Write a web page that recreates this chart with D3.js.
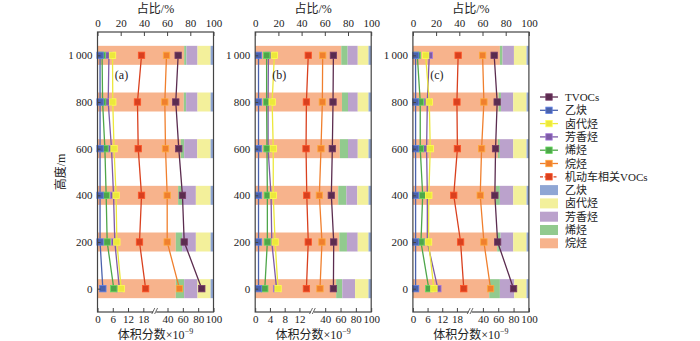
<!DOCTYPE html>
<html>
<head>
<meta charset="utf-8">
<script src="https://cdn.jsdelivr.net/npm/d3@7"></script>
<style>
  body { margin: 0; background: #fff; }
  svg text { font-family: "Liberation Serif", "Times New Roman", "Noto Sans CJK SC", serif; fill: #222; }
</style>
</head>
<body>
<div id="chart"></div>
<script>
// altitudes (m), bottom to top
var altitudes = [0, 200, 400, 600, 800, 1000];
var panelNames = ["(a)", "(b)", "(c)"];

// volume fraction (x10^-9) per panel [a, b, c], each by altitude
var tvoc    = [[84.7, 61.8, 59.5, 54.7, 50.8, 53.9], [50.7, 51.1, 48.0, 49.3, 50.2, 50.7], [80.0, 59.2, 55.6, 56.5, 58.6, 54.7]];
var acetyl  = [[2.1, 1.0, 1.0, 1.0, 1.0, 1.0], [0.9, 0.9, 0.9, 0.9, 0.9, 0.9], [1.1, 1.1, 1.1, 1.1, 1.1, 1.1]];
var halo    = [[9.3, 7.6, 7.3, 6.5, 6.0, 5.9], [6.2, 5.4, 4.9, 4.9, 4.6, 5.2], [8.6, 6.4, 6.5, 7.1, 6.7, 5.2]];
var arom    = [[8.6, 6.8, 6.3, 5.5, 4.2, 4.5], [5.8, 4.5, 4.3, 3.5, 3.5, 3.6], [10.2, 5.9, 5.9, 5.6, 5.9, 6.7]];
var alkene  = [[6.4, 3.8, 3.4, 2.9, 2.0, 1.8], [2.6, 3.3, 3.3, 3.2, 3.1, 3.1], [6.5, 3.3, 4.0, 3.0, 3.0, 1.8]];
var alkane  = [[55.6, 39.6, 39.6, 37.4, 36.5, 38.7], [33.2, 35.8, 32.4, 34.5, 36.3, 36.7], [50.0, 41.3, 36.5, 38.3, 41.3, 39.6]];
var vehicle = [[18.9, 16.5, 17.3, 16.0, 15.7, 17.3], [13.9, 14.4, 14.0, 13.8, 13.9, 14.4], [20.8, 19.5, 16.7, 18.2, 18.0, 18.5]];

// share (%) of each group per panel, by altitude
var alkanePct = [[67.5, 67.5, 69.5, 71.8, 74.4, 74.7], [69.8, 72.5, 71.6, 73.0, 74.8, 74.2], [65.8, 72.7, 71.6, 73.3, 73.9, 75.0]];
var alkenePct = [[7.2, 5.5, 3.5, 2.9, 2.0, 2.0], [5.3, 6.6, 7.0, 7.0, 5.2, 5.5], [9.2, 2.9, 3.4, 1.7, 2.0, 2.3]];
var aromPct   = [[11.5, 11.8, 11.8, 11.3, 9.8, 9.5], [11.0, 9.3, 9.4, 8.4, 8.4, 8.7], [12.4, 10.9, 11.5, 11.5, 10.6, 9.8]];
var haloPct   = [[11.3, 12.7, 12.7, 11.5, 11.3, 11.3], [11.6, 9.3, 9.7, 9.3, 9.3, 9.3], [10.6, 11.5, 11.5, 11.5, 11.5, 10.9]];
var acetylPct = [[2.5, 2.5, 2.5, 2.5, 2.5, 2.5], [2.3, 2.3, 2.3, 2.3, 2.3, 2.3], [2.0, 2.0, 2.0, 2.0, 2.0, 2.0]];

// axis ticks
var pctTicks = [0, 20, 40, 60, 80, 100];
var lowTicks = [[0, 6, 12, 18], [0, 4, 8, 12], [0, 6, 12, 18]];
var highTicks = [40, 60, 80, 100];
var lowMax = [22, 15.2, 22.9];   // end of the lower part of the broken axis
var highMin = 25;                // start of the upper part

var width = 700, height = 341,
	plotTop = 32, plotBottom = 312,
	panelW = 116, panelStep = 157.7, left0 = 97.5,
	barH = 19;

var lineSeries = [
	{ name: "芳香烃", data: arom, color: "#7d5ba6" },
	{ name: "烯烃", data: alkene, color: "#4ea64a" },
	{ name: "乙炔", data: acetyl, color: "#4a62ad" },
	{ name: "卤代烃", data: halo, color: "#ece83c" },
	{ name: "机动车相关VOCs", data: vehicle, color: "#d9401e" },
	{ name: "烷烃", data: alkane, color: "#f07f2d" },
	{ name: "TVOCs", data: tvoc, color: "#5b2c4f" }
];
var barSeries = [
	{ name: "烷烃", data: alkanePct, color: "#f7b38c" },
	{ name: "烯烃", data: alkenePct, color: "#92ca8e" },
	{ name: "芳香烃", data: aromPct, color: "#bba2cc" },
	{ name: "卤代烃", data: haloPct, color: "#f3f09b" },
	{ name: "乙炔", data: acetylPct, color: "#8fa6d4" }
];

var svg = d3.select("#chart").append("svg")
	.attr("width", width)
	.attr("height", height);

var y = d3.scaleLinear().domain([-100, 1100]).range([plotBottom, plotTop]);

panelNames.forEach(function(label, p) {
	var x0 = left0 + p * panelStep;
	var g = svg.append("g");

	var xPct = d3.scaleLinear().domain([0, 100]).range([x0, x0 + panelW]);
	// broken axis: two linear pieces joined by a small gap
	var xVal = d3.scaleLinear()
		.domain([0, lowMax[p], highMin, 100])
		.range([x0, x0 + 56, x0 + 58.5, x0 + panelW]);

	// stacked share bars
	var rows = altitudes.map(function(a, i) {
		var r = { alt: a };
		barSeries.forEach(function(s) { r[s.name] = s.data[p][i]; });
		return r;
	});
	var stack = d3.stack().keys(barSeries.map(function(s) { return s.name; }))(rows);
	stack.forEach(function(layer, k) {
		g.selectAll(null).data(layer).enter().append("rect")
			.attr("x", function(d) { return xPct(d[0]); })
			.attr("width", function(d) { return xPct(d[1]) - xPct(d[0]); })
			.attr("y", function(d) { return y(d.data.alt) - barH / 2; })
			.attr("height", barH)
			.attr("fill", barSeries[k].color);
	});

	// concentration profiles
	var line = d3.line()
		.x(function(d) { return xVal(d); })
		.y(function(d, i) { return y(altitudes[i]); });
	lineSeries.forEach(function(s) {
		g.append("path")
			.attr("d", line(s.data[p]))
			.attr("fill", "none")
			.attr("stroke", s.color)
			.attr("stroke-width", 1.3);
		g.selectAll(null).data(s.data[p]).enter().append("rect")
			.attr("x", function(d) { return xVal(d) - 3.2; })
			.attr("y", function(d, i) { return y(altitudes[i]) - 3.2; })
			.attr("width", 6.4)
			.attr("height", 6.4)
			.attr("fill", s.color)
			.attr("stroke", d3.color(s.color).brighter(0.8))
			.attr("stroke-width", 0.8);
	});

	// frame
	g.append("rect")
		.attr("x", x0).attr("y", plotTop)
		.attr("width", panelW).attr("height", plotBottom - plotTop)
		.attr("fill", "none").attr("stroke", "#444").attr("stroke-width", 1.2);

	var axTop = g.append("g")
		.attr("transform", "translate(0," + plotTop + ")")
		.call(d3.axisTop(xPct).tickValues(pctTicks).tickSize(-4).tickPadding(5));
	var axBot = g.append("g")
		.attr("transform", "translate(0," + plotBottom + ")")
		.call(d3.axisBottom(xVal).tickValues(lowTicks[p].concat(highTicks)).tickSize(-4).tickPadding(3).tickFormat(d3.format("d")));
	var axLeft = g.append("g")
		.attr("transform", "translate(" + x0 + ",0)")
		.call(d3.axisLeft(y).tickValues(altitudes).tickSize(-3).tickPadding(5)
			.tickFormat(function(d) { return d >= 1000 ? d3.format(",")(d).replace(",", "\u2009") : d; }));
	[axTop, axBot, axLeft].forEach(function(a) {
		a.attr("font-family", null);
		a.select(".domain").remove();
		a.selectAll("line").attr("stroke", "#444");
		a.selectAll("text").attr("font-size", 11);
	});

	// axis break marks
	var bx = x0 + 57.2;
	g.append("rect").attr("x", bx - 1.5).attr("y", plotBottom - 1).attr("width", 3).attr("height", 2).attr("fill", "#fff");
	[-1.4, 1.4].forEach(function(o) {
		g.append("line")
			.attr("x1", bx + o - 1.5).attr("y1", plotBottom + 2)
			.attr("x2", bx + o + 1.5).attr("y2", plotBottom - 4)
			.attr("stroke", "#444").attr("stroke-width", 0.8);
	});

	g.append("text").attr("x", x0 + 24).attr("y", 79).attr("font-size", 12).attr("text-anchor", "middle").text(label);
	g.append("text").attr("x", x0 + panelW / 2).attr("y", 13).attr("font-size", 12).attr("text-anchor", "middle").text("占比/%");
	var t = g.append("text").attr("x", x0 + panelW / 2).attr("y", 338.5).attr("font-size", 12).attr("text-anchor", "middle");
	t.append("tspan").text("体积分数×10");
	t.append("tspan").attr("font-size", 8).attr("dy", -5).text("−9");
});

svg.append("text")
	.attr("transform", "translate(65,172) rotate(-90)")
	.attr("font-size", 12)
	.attr("text-anchor", "middle")
	.text("高度/m");

// legend
var lg = svg.append("g").attr("transform", "translate(540,97)");
var legendLines = ["TVOCs", "乙炔", "卤代烃", "芳香烃", "烯烃", "烷烃", "机动车相关VOCs"].map(function(n) {
	return lineSeries.filter(function(s) { return s.name === n; })[0];
});
legendLines.forEach(function(s, i) {
	var row = lg.append("g").attr("transform", "translate(0," + (i * 13.3) + ")");
	row.append("line").attr("x1", 0).attr("x2", 18).attr("y1", 0).attr("y2", 0)
		.attr("stroke", s.color).attr("stroke-width", 1.3)
		.attr("stroke-dasharray", s.name === "机动车相关VOCs" ? "3,1.5" : null);
	row.append("rect").attr("x", 5.8).attr("y", -3.2).attr("width", 6.4).attr("height", 6.4)
		.attr("fill", s.color).attr("stroke", d3.color(s.color).brighter(0.8)).attr("stroke-width", 0.8);
	row.append("text").attr("x", 25).attr("y", 4).attr("font-size", 11).text(s.name);
});
["乙炔", "卤代烃", "芳香烃", "烯烃", "烷烃"].forEach(function(n, i) {
	var s = barSeries.filter(function(b) { return b.name === n; })[0];
	var row = lg.append("g").attr("transform", "translate(0," + ((i + 7) * 13.3) + ")");
	row.append("rect").attr("x", 0).attr("y", -5).attr("width", 18).attr("height", 10).attr("fill", s.color);
	row.append("text").attr("x", 25).attr("y", 4).attr("font-size", 11).text(s.name);
});
</script>
</body>
</html>
